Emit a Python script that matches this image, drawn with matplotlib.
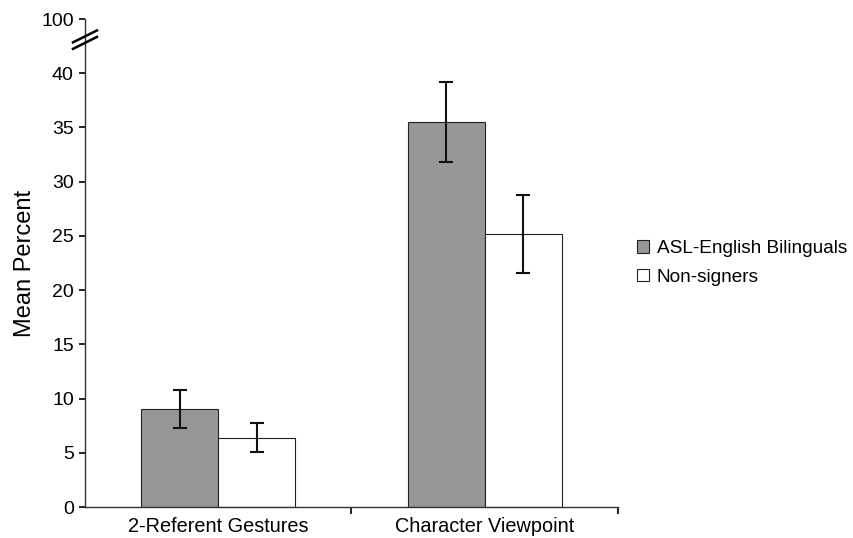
import numpy as np
import matplotlib.pyplot as plt

plt.rcParams['font.family'] = ['Liberation Sans', 'DejaVu Sans']

# Data
categories = ['2-Referent Gestures', 'Character Viewpoint']
groups = ['ASL-English Bilinguals', 'Non-signers']
bilingual_mean = [9.0, 35.5]
bilingual_err = [1.75, 3.7]
nonsigner_mean = [6.4, 25.2]
nonsigner_err = [1.35, 3.6]

# y ticks; the top tick (100) sits above a broken axis
ytick_pos = [0, 5, 10, 15, 20, 25, 30, 35, 40, 45]
ytick_labels = ['0', '5', '10', '15', '20', '25', '30', '35', '40', '100']

fig = plt.figure(figsize=(8.54, 5.38), dpi=100)
ax = fig.add_axes([0.0995, 0.0576, 0.6241, 0.907])

x = np.arange(len(categories))
w = 0.289

ax.bar(x - w / 2, bilingual_mean, w, color='#979797', edgecolor='#222222',
       linewidth=0.8, label=groups[0], zorder=2)
ax.bar(x + w / 2, nonsigner_mean, w, color='white', edgecolor='#222222',
       linewidth=0.8, label=groups[1], zorder=2)
ax.errorbar(x - w / 2, bilingual_mean, yerr=bilingual_err, fmt='none',
            ecolor='#111111', elinewidth=1.5, capsize=4.7, capthick=1.5, zorder=3)
ax.errorbar(x + w / 2, nonsigner_mean, yerr=nonsigner_err, fmt='none',
            ecolor='#111111', elinewidth=1.5, capsize=4.7, capthick=1.5, zorder=3)

ax.set_xlim(-0.5, 1.5)
ax.set_ylim(0, 45)

ax.set_yticks(ytick_pos)
ax.set_yticklabels(ytick_labels, fontsize=14)
ax.set_xticks(x)
ax.set_xticklabels(categories, fontsize=14.3)
ax.tick_params(axis='x', which='major', length=0, pad=7)
ax.set_xticks([0.5, 1.5], minor=True)
ax.tick_params(axis='x', which='minor', length=5, width=1.2, direction='out')
ax.tick_params(axis='y', length=4, width=1.2, direction='out', pad=4)

for s in ['top', 'right']:
    ax.spines[s].set_visible(False)
for s in ['left', 'bottom']:
    ax.spines[s].set_color('#333333')
    ax.spines[s].set_linewidth(1.0)

ax.set_ylabel('Mean Percent', fontsize=17, labelpad=4)

# axis break marks
for yc in [43.4, 42.8]:
    ax.plot([-0.5 - 0.045, -0.5 + 0.045], [yc - 0.55, yc + 0.55], color='black',
            linewidth=1.8, clip_on=False, zorder=5)

ax.legend(loc='center left', bbox_to_anchor=(1.003, 0.50), frameon=False,
          fontsize=13.7, handlelength=0.65, handleheight=0.65, handletextpad=0.4,
          labelspacing=0.6)

fig.savefig('out.png', dpi=100)
